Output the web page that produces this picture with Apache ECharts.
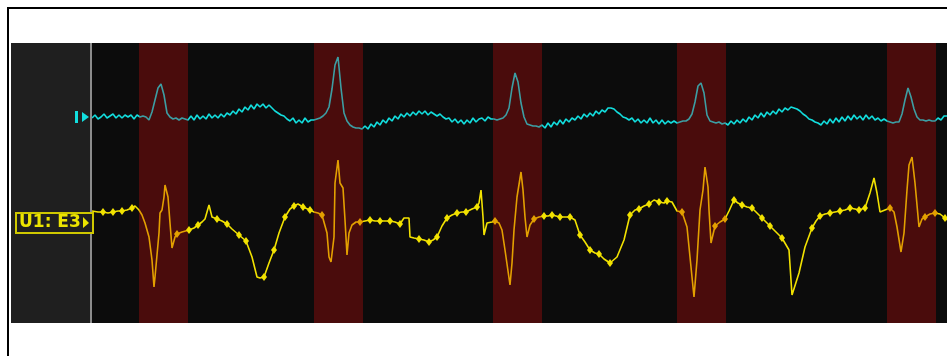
<!DOCTYPE html>
<html>
<head>
<meta charset="utf-8">
<script src="https://cdn.jsdelivr.net/npm/echarts@6/dist/echarts.min.js"></script>
<style>
  html, body { margin: 0; padding: 0; background: #fff; }
  #main { width: 947px; height: 356px; }
</style>
</head>
<body>
<div id="main"></div>
<script>
// time axis in ms, cyan channel sampled every 3 ms
const cyanPeriod = 3;
const cyanValues = [
  -1, 2, -2, 0, 3, -1, 1, 3, -1, 2, -1, 2, 0, 2, -2, 2,
  0, 1, 0, -3, 5, 17, 29, 33, 22, 4, 0, -2, -1, -3, -1, -2, -3,
  1, -3, 2, -2, 1, -2, 3, -1, 2, -1, 3, 0, 4, 2, 6, 3, 8, 5, 10, 7,
  12, 8, 13, 10, 13, 9, 12, 9, 6, 4, 2, 1, -2, -4, -1, -6, -3, -6, -1, -5, -3,
  -3, -2, -1, 1, 4, 10, 28, 52, 60, 29, 4, -4, -8, -10, -11, -11, -12,
  -9, -12, -7, -10, -5, -8, -3, -6, -1, -4, 1, -2, 3, 0, 4, 1, 5, 2, 6, 3,
  6, 2, 5, 3, 1, 3, 0, -2, -1, -5, -2, -6, -3, -7, -3, -6, -1, -5, -2, -1, -4, 0, -2,
  -2, -3, -2, -1, 2, 9, 29, 44, 35, 14, 0, -7, -8, -9, -9, -10, -8,
  -11, -6, -10, -5, -8, -3, -7, -2, -5, -1, -3, 1, -2, 3, 0, 4, 1, 6, 3, 7,
  5, 9, 9, 8, 5, 3, 0, -1, -3, -1, -5, -2, -6, -3, -6, -1, -6, -3, -7, -3, -7, -4, -6, -4,
  -6, -5, -4, -4, -2, 3, 15, 31, 34, 24, 2, -4, -5, -6, -5, -7, -6,
  -8, -4, -7, -3, -6, -2, -5, 0, -3, 2, -1, 4, 0, 5, 2, 6, 3, 8, 5, 9,
  7, 10, 9, 8, 6, 3, 1, -2, -3, -5, -6, -8, -4, -7, -2, -6, -1, -5, 0, -4,
  1, -3, 2, -2, 1, -3, 2, -2, 1, -3, -1, -4, -2,
  -4, -5, -6, -5, -5, 3, 17, 29, 20, 8, 0, -3, -3, -4, -3, -4, -4,
  -1, -3, 1, 1
];

// yellow channel (U1: E3), irregular key samples
const yellowT = [
  0, 6, 11, 16, 21, 26, 30, 35, 40, 43, 47, 50, 53, 57, 60, 62, 63, 67, 68, 70, 72, 73, 76, 78, 80, 83, 85, 90,
  97, 102, 106, 110, 113, 117, 120, 125, 130, 135, 140, 147, 154, 160, 165, 168, 172, 177, 182, 187, 193, 198,
  202, 206, 211, 218, 222, 226, 230, 235, 237, 239, 242, 243, 246, 248, 251, 253, 255, 257, 260, 264, 268, 273,
  278, 283, 288, 293, 298, 303, 308, 312, 317, 318, 322, 327, 332, 337, 341, 345, 350, 355, 360, 365, 370, 374,
  380, 385, 387, 389, 391, 392, 395, 400, 403, 407, 410, 413, 418, 420, 422, 425, 429, 431, 433, 435, 438, 442,
  447, 452, 456, 460, 464, 468, 473, 478, 483, 488, 493, 498, 503, 507, 512, 518, 525, 532, 538, 543, 547, 552,
  557, 562, 567, 572, 575, 580, 585, 590, 595, 598, 602, 605, 608, 611, 613, 616, 617, 619, 623, 628, 633, 637,
  642, 646, 650, 655, 660, 665, 670, 675, 678, 683, 690, 697, 700, 707, 713, 720, 724, 728, 733, 738, 743, 748,
  753, 758, 763, 767, 773, 775, 778, 782, 785, 788, 793, 798, 802, 805, 809, 812, 815, 817, 820, 823, 825, 827,
  830, 833, 838, 843, 848, 853, 855
];
const yellowV = [
  2, 1, 1, 0, 1, 2, 2, 3, 5, 7, 3, -2, -10, -24, -47, -74, -64, -20, 0, 3, 16, 28, 16, -10, -35, -24, -21, -19,
  -17, -15, -12, -9, -6, 8, -4, -6, -8, -11, -16, -22, -28, -44, -64, -65, -64, -50, -37, -20, -4, 4,
  7, 9, 6, 3, 1, 0, -2, -20, -44, -49, -24, 30, 53, 30, 25, -7, -42, -20, -12, -9, -9, -8,
  -7, -8, -8, -8, -8, -9, -11, -5, -5, -24, -25, -26, -27, -29, -27, -24, -13, -5, -2, 0, 1, 1,
  4, 6, 10, 23, -4, -22, -10, -9, -8, -10, -17, -37, -72, -50, -17, 16, 41, 23, -4, -24, -12, -6,
  -4, -3, -3, -2, -3, -4, -4, -4, -7, -22, -29, -37, -40, -41, -46, -50, -44, -27, -2, 3, 4, 7,
  9, 13, 11, 10, 12, 11, 2, 1, -14, -44, -84, -47, 3, 23, 46, 26, 3, -30, -13, -9, -6, 2,
  13, 10, 8, 6, 5, 0, -5, -10, -13, -18, -25, -37, -82, -60, -34, -15, -8, -3, -1, 0, 1, 2,
  3, 5, 4, 3, 5, 6, 20, 35, 20, 1, 3, 5, 1, -14, -39, -20, 23, 48, 56, 30, 8, -14,
  -6, -4, -1, 0, -1, -5, -7
];
// samples that carry a beat-detector dot
const yellowDots = [
  11, 21, 30, 40, 85, 97, 106, 125, 135, 147, 154, 172, 182, 193, 202, 211, 218, 230, 268, 278, 288, 298,
  308, 327, 337, 345, 355, 365, 374, 385, 403, 442, 452, 460, 468, 478, 488, 498, 507, 518, 538, 547, 557,
  567, 575, 590, 623, 633, 642, 650, 660, 670, 678, 690, 720, 728, 738, 748, 758, 767, 773, 798, 833, 843, 853
];

// highlighted beat windows, ms
const bands = [[47, 96], [222, 271], [401, 450], [585, 634], [795, 844]];

const yellowLabel = "U1: E3";

const chart = echarts.init(document.getElementById("main"));

const cyanData = cyanValues.map((v, i) => [i * cyanPeriod, v]);
const yellowData = yellowT.map((t, i) => [t, yellowV[i]]);
const dotSet = new Set(yellowDots);

// color pieces along the time axis: inside / outside the beat windows
function bandPieces(inColor, outColor) {
  const pieces = [{ lt: bands[0][0], color: outColor }];
  bands.forEach((b, k) => {
    pieces.push({ gte: b[0], lte: b[1], color: inColor });
    if (k < bands.length - 1) {
      pieces.push({ gt: b[1], lt: bands[k + 1][0], color: outColor });
    }
  });
  pieces.push({ gt: bands[bands.length - 1][1], color: outColor });
  return pieces;
}

const option = {
  animation: false,
  backgroundColor: "#fff",
  grid: {
    left: 92,
    right: 0,
    top: 43,
    bottom: 33,
    show: true,
    backgroundColor: "#0c0c0c",
    borderWidth: 0,
  },
  xAxis: {
    type: "value",
    min: 0,
    max: 855,
    show: false,
  },
  yAxis: [
    { type: "value", min: -206, max: 74, show: false },
    { type: "value", min: -110, max: 170, show: false },
  ],
  visualMap: [
    {
      type: "piecewise",
      show: false,
      dimension: 0,
      seriesIndex: 0,
      pieces: bandPieces("#3c9ea3", "#12dede"),
    },
    {
      type: "piecewise",
      show: false,
      dimension: 0,
      seriesIndex: 1,
      pieces: bandPieces("#e3a000", "#f2e200"),
    },
  ],
  series: [
    {
      name: "ECG",
      type: "line",
      yAxisIndex: 0,
      data: cyanData,
      showSymbol: false,
      lineStyle: { width: 1.6 },
      markArea: {
        silent: true,
        itemStyle: { color: "#4a0c0c" },
        data: bands.map((b) => [{ xAxis: b[0] }, { xAxis: b[1] }]),
      },
    },
    {
      name: yellowLabel,
      type: "line",
      yAxisIndex: 1,
      data: yellowData,
      symbol: "diamond",
      showSymbol: true,
      showAllSymbol: true,
      symbolSize: (val) => (dotSet.has(val[0]) ? [6, 8] : 0),
      lineStyle: { width: 1.6 },
    },
  ],
};

chart.setOption(option);

// channel markers at the left, placed on each trace's baseline
const cyanY = chart.convertToPixel({ yAxisIndex: 0 }, 0);
const yellowY = chart.convertToPixel({ yAxisIndex: 1 }, 0);

chart.setOption({
  graphic: [
    {
      type: "rect",
      z: -10,
      shape: { x: 11, y: 43, width: 81, height: 280 },
      style: { fill: "#1f1f1f" },
    },
    {
      type: "rect",
      z: 5,
      shape: { x: 90, y: 43, width: 2, height: 280 },
      style: { fill: "#8c8c8c" },
    },
    {
      type: "rect",
      z: 10,
      shape: { x: 8, y: 8, width: 1000, height: 400 },
      style: { fill: null, stroke: "#000", lineWidth: 2 },
    },
    {
      type: "rect",
      z: 6,
      shape: { x: 75, y: cyanY - 6, width: 3, height: 12 },
      style: { fill: "#12dede" },
    },
    {
      type: "polygon",
      z: 6,
      shape: { points: [[82, cyanY - 5], [89, cyanY], [82, cyanY + 5]] },
      style: { fill: "#12dede" },
    },
    {
      type: "rect",
      z: 6,
      shape: { x: 16, y: yellowY, width: 77, height: 20 },
      style: { fill: "#1f1f1f", stroke: "#cfc800", lineWidth: 2 },
    },
    {
      type: "text",
      z: 7,
      x: 19,
      y: yellowY + 10,
      style: {
        text: yellowLabel,
        fill: "#ece400",
        font: "bold 17px 'DejaVu Sans'",
        verticalAlign: "middle",
      },
    },
    {
      type: "polygon",
      z: 7,
      shape: { points: [[83, yellowY + 4], [89, yellowY + 10], [83, yellowY + 15]] },
      style: { fill: "#ece400" },
    },
  ],
});

window.addEventListener("resize", () => chart.resize());
</script>
</body>
</html>
